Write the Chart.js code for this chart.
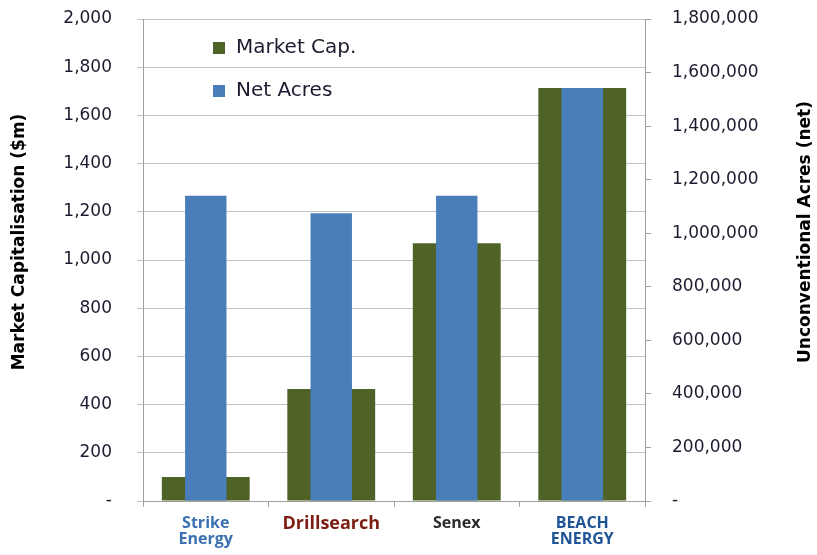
<!DOCTYPE html>
<html>
<head>
<meta charset="utf-8">
<script src="https://cdn.jsdelivr.net/npm/chart.js@4.4.1/dist/chart.umd.min.js"></script>
<style>
  html, body { margin: 0; padding: 0; background: #fff; }
  #wrap { width: 817px; height: 555px; }
</style>
</head>
<body>
<div id="wrap"><canvas id="chart" width="817" height="555"></canvas></div>
<script>
// companies along the bottom (logos in the original, text here)
var companies = [['Strike', 'Energy'], 'Drillsearch', 'Senex', ['BEACH', 'ENERGY']];
var companyColors = ['#3a6fb0', '#7b1d12', '#2b2b2b', '#1f5496'];

// market capitalisation, $m (left axis)
var marketCap = [100, 465, 1070, 1714];
// unconventional acres, net (right axis)
var netAcres = [1140000, 1075000, 1140000, 1542000];

var leftTitle = 'Market Capitalisation ($m)';
var rightTitle = 'Unconventional Acres (net)';

var GREEN = '#4F6228';
var BLUE = '#4A7EBB';
var GRID = '#C0C0C0';
var AXIS = '#A0A0A0';
var TEXT = '#1c1c30';
var FONT = "'DejaVu Sans', 'Open Sans', sans-serif";

function fmt(v) {
    return v === 0 ? '-' : v.toLocaleString('en-US');
}

// the tick padding would otherwise push the plot down too
function fixY(width) {
    return function (s) {
        s.width = width;
        s.paddingTop = 0;
        s.paddingBottom = 0;
    };
}

// legend inside the plot (top left, stacked) and both axis titles read bottom-to-top
var extras = {
    id: 'extras',
    afterDraw: function (chart) {
        var c = chart.ctx;
        var a = chart.chartArea;
        var ds = chart.data.datasets;
        c.save();
        c.font = '20px ' + FONT;
        c.textBaseline = 'middle';
        for (var i = 0; i < ds.length; i++) {
            var y = a.top + 29 + i * 43;
            c.fillStyle = ds[i].backgroundColor;
            c.fillRect(a.left + 70, y - 6, 12, 12);
            c.fillStyle = TEXT;
            c.fillText(ds[i].label, a.left + 93, y);
        }
        c.font = 'bold 17px ' + FONT;
        c.fillStyle = '#000';
        c.textAlign = 'center';
        var titles = [[leftTitle, 20, 242], [rightTitle, 806, 232]];
        titles.forEach(function (t) {
            c.save();
            c.translate(t[1], t[2]);
            c.rotate(-Math.PI / 2);
            c.fillText(t[0], 0, 0);
            c.restore();
        });
        c.restore();
    }
};

new Chart(document.getElementById('chart').getContext('2d'), {
    type: 'bar',
    data: {
        labels: companies,
        datasets: [{
            label: 'Market Cap.',
            data: marketCap,
            backgroundColor: GREEN,
            yAxisID: 'y',
            grouped: false,
            order: 2,
            barPercentage: 0.70,
            categoryPercentage: 1
        }, {
            label: 'Net Acres',
            data: netAcres,
            backgroundColor: BLUE,
            yAxisID: 'y2',
            grouped: false,
            order: 1,
            barPercentage: 0.33,
            categoryPercentage: 1
        }]
    },
    options: {
        responsive: false,
        animation: false,
        layout: { padding: { top: 19, right: 0, bottom: 0, left: 0 } },
        plugins: {
            legend: { display: false },
            tooltip: { enabled: false }
        },
        scales: {
            x: {
                offset: true,
                grid: { offset: true, drawOnChartArea: false, tickLength: 6, color: AXIS },
                border: { color: AXIS },
                ticks: {
                    padding: 8,
                    color: function (ctx) { return companyColors[ctx.index]; },
                    font: function (ctx) {
                        return { family: "'Open Sans', sans-serif", size: ctx.index === 1 ? 18 : 16, weight: 'bold', lineHeight: 1.0 };
                    }
                },
                afterFit: function (s) { s.height = 54; }
            },
            y: {
                position: 'left',
                min: 0,
                max: 2000,
                ticks: {
                    stepSize: 200,
                    padding: 25,
                    color: TEXT,
                    font: { family: FONT, size: 17 },
                    callback: fmt
                },
                grid: { color: GRID, tickLength: 6 },
                border: { color: AXIS },
                afterFit: fixY(143)
            },
            y2: {
                position: 'right',
                min: 0,
                max: 1800000,
                ticks: {
                    stepSize: 200000,
                    padding: 21,
                    color: TEXT,
                    font: { family: FONT, size: 17 },
                    callback: fmt
                },
                grid: { drawOnChartArea: false, color: AXIS, tickLength: 6 },
                border: { color: AXIS },
                afterFit: fixY(172)
            }
        }
    },
    plugins: [extras]
});
</script>
</body>
</html>
